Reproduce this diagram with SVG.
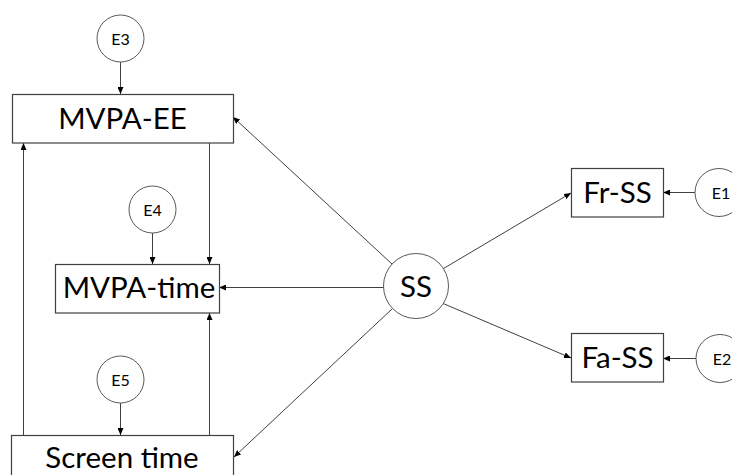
<svg xmlns="http://www.w3.org/2000/svg" width="732" height="475" viewBox="0 0 732 475">
<defs>
<marker id="ah" markerWidth="8" markerHeight="6" refX="7" refY="3" orient="auto" markerUnits="userSpaceOnUse">
<path d="M0,0 L7,3 L0,6 Z" fill="#000"/>
</marker>
<style>
.box{fill:#fff;stroke:#404040;stroke-width:1.2}
.circ{fill:#fff;stroke:#595959;stroke-width:1}
.big{font-family:Lato,"Open Sans",sans-serif;font-size:29.5px;fill:#000;text-anchor:middle}
.small{font-family:Lato,"Open Sans",sans-serif;font-size:16px;fill:#000;text-anchor:middle}
.ln{stroke:#404040;stroke-width:1;fill:none;marker-end:url(#ah)}
</style>
</defs>
<rect width="732" height="475" fill="#fff"/>
<g id="connectors">
<line class="ln" x1="120.5" y1="62" x2="120.5" y2="94"/>
<line class="ln" x1="152.5" y1="233" x2="152.5" y2="264"/>
<line class="ln" x1="120.5" y1="403" x2="120.5" y2="435"/>
<line class="ln" x1="695" y1="192.5" x2="663" y2="192.5"/>
<line class="ln" x1="696" y1="358.5" x2="663" y2="358.5"/>
<line class="ln" x1="209.5" y1="143" x2="209.5" y2="264"/>
<line class="ln" x1="23.5" y1="435" x2="23.5" y2="143"/>
<line class="ln" x1="209.5" y1="435" x2="209.5" y2="313"/>
<line class="ln" x1="392" y1="264" x2="233" y2="117"/>
<line class="ln" x1="384" y1="287.5" x2="219" y2="287.5"/>
<line class="ln" x1="392" y1="309" x2="234" y2="457"/>
<line class="ln" x1="441" y1="270" x2="571" y2="193"/>
<line class="ln" x1="442" y1="303" x2="571" y2="358"/>
</g>
<g id="E3"><circle class="circ" cx="120.5" cy="38.5" r="23.5"/><text class="small" x="120.5" y="44.5">E3</text></g>
<g id="E4"><circle class="circ" cx="152.5" cy="209.5" r="23.5"/><text class="small" x="152.5" y="215.5">E4</text></g>
<g id="E5"><circle class="circ" cx="120.5" cy="379.5" r="23.5"/><text class="small" x="120.5" y="385.5">E5</text></g>
<g id="E1"><circle class="circ" cx="719" cy="192.5" r="24"/><text class="small" x="721" y="198.5">E1</text></g>
<g id="E2"><circle class="circ" cx="720" cy="358.5" r="24"/><text class="small" x="722" y="364.5">E2</text></g>
<g id="MVPA-EE"><rect class="box" x="12.5" y="94.5" width="221" height="48.5"/><text class="big" x="122.5" y="129">MVPA-EE</text></g>
<g id="MVPA-time"><rect class="box" x="55.5" y="264.5" width="164" height="48.5"/><text class="big" x="139" y="298">MVPA-time</text></g>
<g id="Screen-time"><rect class="box" x="11.5" y="435.5" width="222" height="48"/><text class="big" x="122" y="468">Screen time</text></g>
<g id="SS"><circle class="circ" cx="416" cy="286" r="32.5"/><text class="big" x="416" y="296.5">SS</text></g>
<g id="Fr-SS"><rect class="box" x="571.5" y="168.5" width="92" height="48.5"/><text class="big" x="617.5" y="203">Fr-SS</text></g>
<g id="Fa-SS"><rect class="box" x="571.5" y="333.5" width="92" height="48.5"/><text class="big" x="617.5" y="368">Fa-SS</text></g>
</svg>
